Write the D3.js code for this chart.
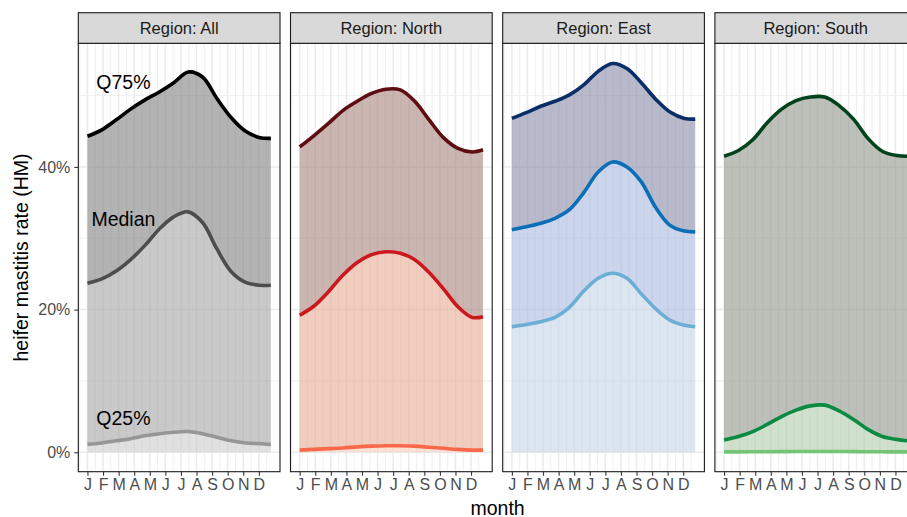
<!DOCTYPE html>
<html><head><meta charset="utf-8">
<script src="https://cdn.jsdelivr.net/npm/d3@7"></script>
<style>html,body{margin:0;padding:0;background:#fff}svg{display:block;font-family:"Liberation Sans",Arial,Helvetica,sans-serif}</style>
</head><body>
<script>
// ---- data ----
const monthLabels = ["J","F","M","A","M","J","J","A","S","O","N","D"];
const weeks = [1,5,9,13,17,21,25,29,33,37,41,45,49,52];
const regions = ["All","North","East","South"];
const yTickValues = [0,20,40];

const allQ75 = [44.3,45.2,46.6,48.1,49.4,50.5,51.8,53.3,52.6,49.6,46.9,45.0,44.1,44.0];
const allQ50 = [23.7,24.3,25.4,27.0,29.0,31.3,33.0,33.7,32.2,28.5,25.3,23.8,23.4,23.4];
const allQ25 = [1.1,1.3,1.6,1.9,2.3,2.6,2.8,2.9,2.6,2.1,1.6,1.3,1.2,1.1];

const northQ75 = [42.8,44.4,46.1,47.9,49.2,50.3,50.9,50.8,49.2,46.6,44.1,42.6,42.1,42.4];
const northQ50 = [19.2,20.5,22.5,24.8,26.6,27.7,28.1,27.9,27.0,25.2,22.9,20.4,18.9,19.0];
const northQ25 = [0.3,0.4,0.5,0.6,0.75,0.85,0.9,0.9,0.85,0.7,0.55,0.4,0.3,0.3];

const eastQ75 = [46.8,47.6,48.5,49.2,50.1,51.5,53.4,54.5,53.8,51.8,49.5,47.7,46.8,46.7];
const eastQ50 = [31.2,31.6,32.1,32.8,34.0,36.4,39.3,40.7,40.0,37.9,34.3,31.8,31.0,30.9];
const eastQ25 = [17.6,17.9,18.3,18.9,20.3,22.6,24.4,25.1,24.4,22.2,20.1,18.5,17.8,17.6];

const southQ75 = [41.5,42.3,43.8,46.2,48.1,49.3,49.8,49.8,48.6,46.7,44.0,42.2,41.6,41.5];
const southQ50 = [1.7,2.2,2.9,3.9,5.0,5.9,6.5,6.6,5.8,4.6,3.2,2.2,1.8,1.6];
const southQ25 = [0.05,0.05,0.06,0.07,0.08,0.1,0.1,0.1,0.1,0.08,0.07,0.06,0.05,0.05];

const seriesByRegion = {
  All:   [allQ75, allQ50, allQ25],
  North: [northQ75, northQ50, northQ25],
  East:  [eastQ75, eastQ50, eastQ25],
  South: [southQ75, southQ50, southQ25]
};
const annotationLabels = ["Q75%","Median","Q25%"];

// ---- styles ----
const lineColors = {
  All:   ["#000000","#4d4d4d","#969696"],
  North: ["#5e0d10","#cb181d","#f8694a"],
  East:  ["#0a2f68","#0a6fb6","#6baed6"],
  South: ["#00421b","#0b8a42","#74c476"]
};
const bandColors = {
  All:   ["#b3b3b3","#c9c9c9","#e0e0e0"],
  North: ["#cab5b1","#f1cdc0","#fde0d6"],
  East:  ["#b9b9cc","#cbd5eb","#dbe6f1"],
  South: ["#bcc0b9","#cfe1cd","#e0f0dd"]
};
const annotationPos = [{w:11, v:51.9},{w:11, v:32.7},{w:11, v:4.8}];

const W = 907, H = 517;
const panelLeft0 = 78.3, panelStep = 212.2, panelW = 201.7;
const stripTop = 12.7, panelTop = 43.3, panelBottom = 471.7;
const fillAlpha = 0.6;

function baseFor(hex, a){
  const c = d3.rgb(hex);
  const f = v => Math.max(0, Math.min(255, (v - 255*(1-a))/a));
  return d3.rgb(f(c.r), f(c.g), f(c.b)).formatHex();
}

const svg = d3.select("body").append("svg").attr("width", W).attr("height", H);

const y = d3.scaleLinear().domain([-2.73, 57.33]).range([panelBottom, panelTop]);
const majorX = monthLabels.map((m,i) => 1 + i*52/12);
const stepX = 52/12;
const minorX = [];
for (let i = -1; i < majorX.length; i++) {
  const a = 1 + i*stepX; minorX.push(a + stepX/2);
}
const minorY = [10,30,50];

regions.forEach((reg, ri) => {
  const left = panelLeft0 + ri*panelStep;
  const x = d3.scaleLinear().domain([-1.55, 54.55]).range([left, left + panelW]);
  const g = svg.append("g");

  const clipId = "clip" + ri;
  g.append("clipPath").attr("id", clipId).append("rect")
    .attr("x", left).attr("y", panelTop).attr("width", panelW).attr("height", panelBottom - panelTop);
  const gg = g.append("g").attr("clip-path", `url(#${clipId})`);
  minorX.forEach(w => gg.append("line").attr("x1", x(w)).attr("x2", x(w)).attr("y1", panelTop).attr("y2", panelBottom)
    .attr("stroke", "#ebebeb").attr("stroke-width", 0.8));
  minorY.forEach(v => gg.append("line").attr("x1", left).attr("x2", left+panelW).attr("y1", y(v)).attr("y2", y(v))
    .attr("stroke", "#ebebeb").attr("stroke-width", 0.8));
  majorX.forEach(w => gg.append("line").attr("x1", x(w)).attr("x2", x(w)).attr("y1", panelTop).attr("y2", panelBottom)
    .attr("stroke", "#ebebeb").attr("stroke-width", 1.5));
  yTickValues.forEach(v => gg.append("line").attr("x1", left).attr("x2", left+panelW).attr("y1", y(v)).attr("y2", y(v))
    .attr("stroke", "#ebebeb").attr("stroke-width", 1.5));

  const [q75, q50, q25] = seriesByRegion[reg];
  const zeros = weeks.map(() => 0);
  const bands = [[q50, q75],[q25, q50],[zeros, q25]];
  const curve = d3.curveCatmullRom.alpha(0.5);
  bands.forEach((b, bi) => {
    const area = d3.area().curve(curve)
      .x((d,i) => x(weeks[i])).y0((d,i) => y(b[0][i])).y1((d,i) => y(b[1][i]));
    gg.append("path").attr("d", area(weeks))
      .attr("fill", baseFor(bandColors[reg][bi], fillAlpha)).attr("fill-opacity", fillAlpha);
  });
  [q75, q50, q25].forEach((s, si) => {
    const line = d3.line().curve(curve).x((d,i) => x(weeks[i])).y((d) => y(d));
    gg.append("path").attr("d", line(s)).attr("fill", "none")
      .attr("stroke", lineColors[reg][si]).attr("stroke-width", 3.6);
  });

  if (reg === "All") {
    annotationLabels.forEach((t, i) => {
      g.append("text").attr("x", x(annotationPos[i].w)).attr("y", y(annotationPos[i].v))
        .attr("text-anchor", "middle").attr("dominant-baseline", "central")
        .attr("font-size", 19.5).attr("fill", "#000").text(t);
    });
  }

  g.append("rect").attr("x", left).attr("y", panelTop).attr("width", panelW).attr("height", panelBottom - panelTop)
    .attr("fill", "none").attr("stroke", "#1a1a1a").attr("stroke-width", 1.1);
  g.append("rect").attr("x", left).attr("y", stripTop).attr("width", panelW).attr("height", panelTop - stripTop)
    .attr("fill", "#d9d9d9").attr("stroke", "#1a1a1a").attr("stroke-width", 1.1);
  g.append("text").attr("x", left + panelW/2).attr("y", 34).attr("text-anchor", "middle")
    .attr("font-size", 16.5).attr("fill", "#1a1a1a").text("Region: " + reg);

  const xAxis = d3.axisBottom(x).tickValues(majorX).tickFormat((d,i) => monthLabels[i])
    .tickSize(4).tickSizeOuter(0);
  const ax = svg.append("g").attr("transform", `translate(0,${panelBottom})`).call(xAxis);
  ax.select(".domain").remove();
  ax.selectAll(".tick line").attr("stroke", "#333").attr("stroke-width", 1.1);
  ax.selectAll(".tick text").attr("font-size", 16).attr("fill", "#4d4d4d").attr("y", 7)
    .attr("dy", "0.71em").style("font-family", "'Liberation Sans',Arial,sans-serif");

  if (ri === 0) {
    const yAxis = d3.axisLeft(y).tickValues(yTickValues).tickFormat(d => d + "%").tickSize(4).tickSizeOuter(0);
    const ay = svg.append("g").attr("transform", `translate(${left},0)`).call(yAxis);
    ay.select(".domain").remove();
    ay.selectAll(".tick line").attr("stroke", "#333").attr("stroke-width", 1.1);
    ay.selectAll(".tick text").attr("font-size", 16).attr("fill", "#4d4d4d").attr("x", -8)
      .style("font-family", "'Liberation Sans',Arial,sans-serif");
  }
});

svg.append("text").attr("x", 497.6).attr("y", 514.5).attr("text-anchor", "middle")
  .attr("font-size", 19.5).attr("fill", "#000").text("month");
svg.append("text").attr("transform", `translate(28,257.5) rotate(-90)`).attr("text-anchor", "middle")
  .attr("font-size", 19.5).attr("fill", "#000").text("heifer mastitis rate (HM)");
</script>
</body></html>
